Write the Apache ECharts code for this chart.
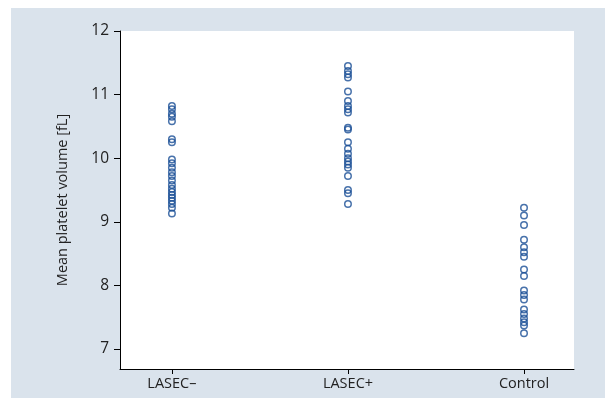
<!DOCTYPE html>
<html>
<head>
<meta charset="utf-8">
<script src="https://cdn.jsdelivr.net/npm/echarts@6/dist/echarts.min.js"></script>
<style>html,body{margin:0;padding:0;background:#fff}#c{width:616px;height:408px}</style>
</head>
<body>
<div id="c"></div>
<script>
const categories = ['LASEC\u2013', 'LASEC+', 'Control'];
const lasecMinus = [10.82, 10.77, 10.7, 10.65, 10.58, 10.3, 10.25, 9.98, 9.92, 9.85, 9.78, 9.72, 9.65, 9.58, 9.52, 9.47, 9.42, 9.38, 9.33, 9.28, 9.22, 9.13];
const lasecPlus = [11.45, 11.37, 11.32, 11.27, 11.05, 10.9, 10.82, 10.77, 10.72, 10.48, 10.45, 10.25, 10.15, 10.07, 10.0, 9.95, 9.9, 9.85, 9.72, 9.5, 9.45, 9.28];
const control = [9.22, 9.1, 8.95, 8.72, 8.6, 8.52, 8.45, 8.25, 8.15, 7.92, 7.85, 7.78, 7.62, 7.55, 7.48, 7.42, 7.37, 7.25];
const yTicks = [7, 8, 9, 10, 11, 12];
const groups = [lasecMinus, lasecPlus, control];

const pts = [];
groups.forEach((g, i) => g.forEach(v => pts.push([i + 1, v])));

const chart = echarts.init(document.getElementById('c'));
chart.setOption({
  animation: false,
  graphic: [{type: 'rect', shape: {x: 11, y: 8, width: 594, height: 390}, style: {fill: '#dae3ec'}, z: -10}],
  grid: {left: 120, right: 42, top: 31, bottom: 39, show: true, backgroundColor: '#fff', borderWidth: 0},
  xAxis: {
    type: 'value', min: 0.705, max: 3.284,
    splitLine: {show: false},
    axisLine: {lineStyle: {color: '#000', width: 1}},
    axisTick: {show: true, customValues: [1, 2, 3], length: 5, lineStyle: {color: '#000'}},
    axisLabel: {customValues: [1, 2, 3], formatter: v => categories[Math.round(v) - 1], color: '#222', fontSize: 14.5, fontFamily: 'Open Sans', margin: 7}
  },
  yAxis: {
    type: 'value', min: 6.686, max: 12,
    name: 'Mean platelet volume [fL]', nameLocation: 'middle', nameGap: 50,
    nameTextStyle: {color: '#222', fontSize: 14.5, fontFamily: 'Open Sans'},
    splitLine: {show: false},
    axisLine: {show: true, lineStyle: {color: '#000', width: 1}},
    axisTick: {show: true, customValues: yTicks, length: 6, lineStyle: {color: '#000'}},
    axisLabel: {customValues: yTicks, color: '#222', fontSize: 15.5, fontFamily: 'Open Sans', margin: 11}
  },
  series: [{
    type: 'scatter', data: pts, symbol: 'circle', symbolSize: 6.5,
    itemStyle: {color: 'rgba(0,0,0,0)', borderColor: '#1a4f96', borderWidth: 1.5}
  }]
});
</script>
</body>
</html>
